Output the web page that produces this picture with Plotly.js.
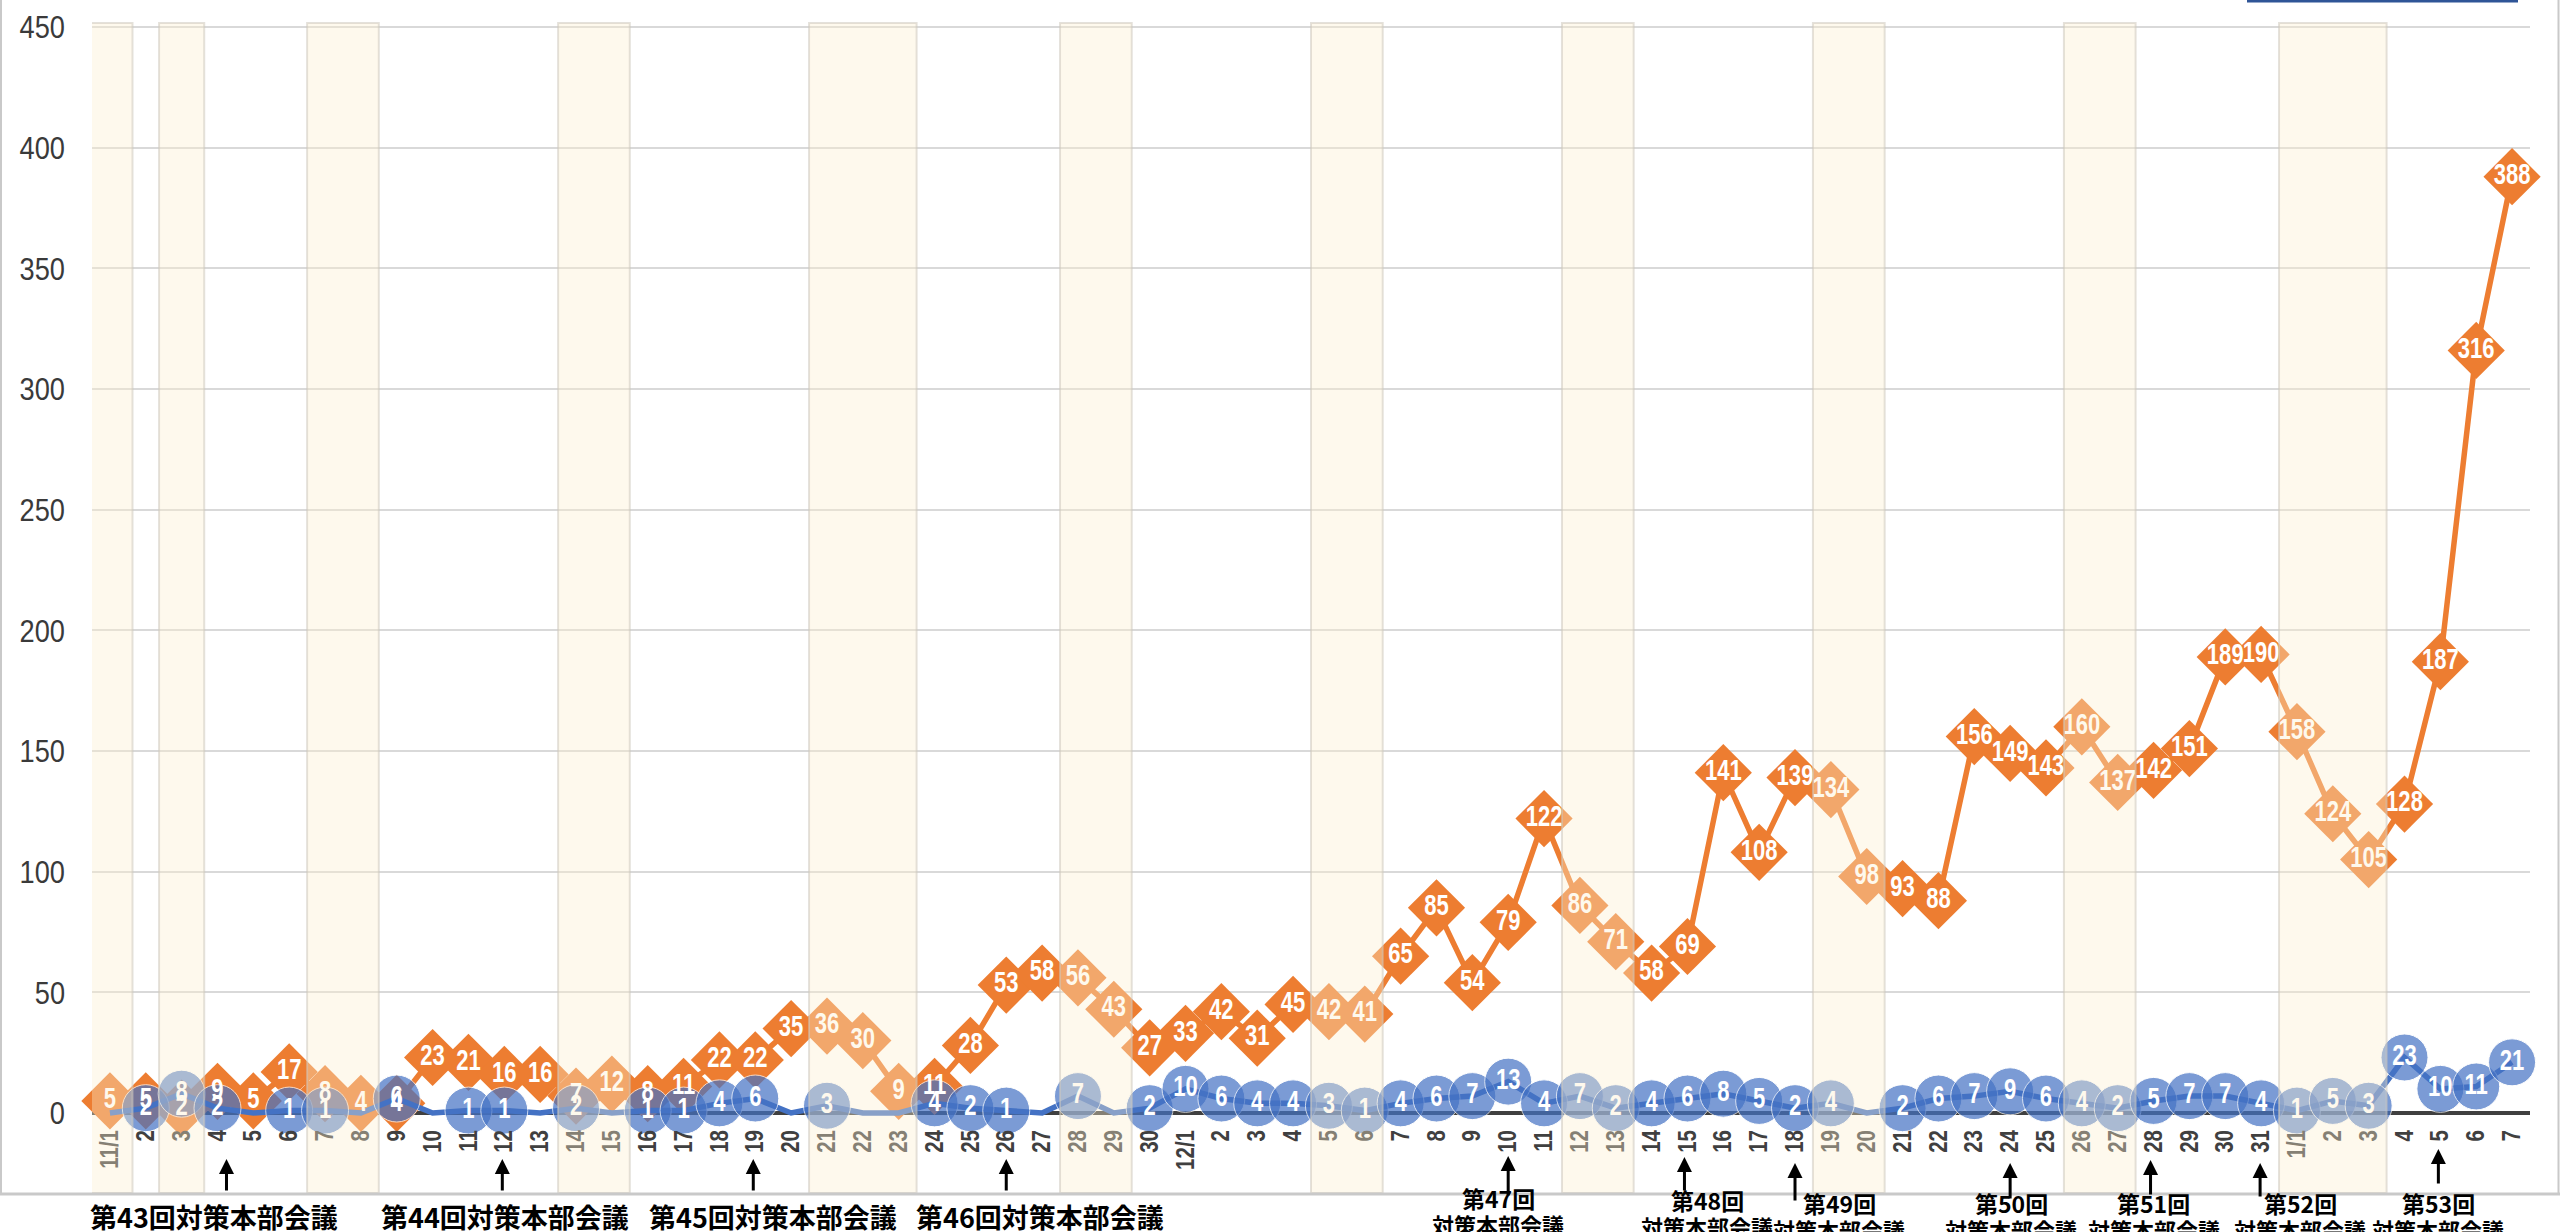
<!DOCTYPE html>
<html><head><meta charset="utf-8">
<script src="https://cdn.plot.ly/plotly-3.0.1.min.js"></script>
<style>html,body{margin:0;padding:0;background:#fff;overflow:hidden}#chart{width:2560px;height:1232px}</style>
</head><body><div id="chart"></div>
<script>
// ---- data ----
const dayLabels = ['11/1','2','3','4','5','6','7','8','9','10','11','12','13','14','15','16','17','18','19','20','21','22','23','24','25','26','27','28','29','30',
  '12/1','2','3','4','5','6','7','8','9','10','11','12','13','14','15','16','17','18','19','20','21','22','23','24','25','26','27','28','29','30','31',
  '1/1','2','3','4','5','6','7'];
const orangeValues = [5,5,2,9,5,17,8,4,4,23,21,16,16,7,12,8,11,22,22,35,36,30,9,11,28,53,58,56,43,27,
  33,42,31,45,42,41,65,85,54,79,122,86,71,58,69,141,108,139,134,98,93,88,156,149,143,160,137,142,151,189,190,
  158,124,105,128,187,316,388];
const blueValues = [0,2,8,2,0,1,1,0,6,0,1,1,0,2,0,1,1,4,6,0,3,0,0,4,2,1,0,7,0,2,
  10,6,4,4,3,1,4,6,7,13,4,7,2,4,6,8,5,2,4,0,2,6,7,9,6,4,2,5,7,7,4,
  1,5,3,23,10,11,21];
const holidayBlocks = [['11/1','11/1'],['11/3','11/3'],['11/7','11/8'],['11/14','11/15'],['11/21','11/23'],['11/28','11/29'],
  ['12/5','12/6'],['12/12','12/13'],['12/19','12/20'],['12/26','12/27'],['1/1','1/3']];
const meetingNames = ['第43回','第44回','第45回','第46回','第47回','第48回','第49回','第50回','第51回','第52回','第53回'];
const meetingDays = ['11/4','11/12','11/19','11/26','12/10','12/15','12/18','12/24','12/28','12/31','1/5'];
const yTicks = [0,50,100,150,200,250,300,350,400,450];

// ---- helpers ----
const idx = dayLabels.map((_, i) => i);
const fullKeys = [];
(function(){let m='11';dayLabels.forEach(l=>{if(l.includes('/')){m=l.split('/')[0];fullKeys.push(l);}else fullKeys.push(m+'/'+l);});})();
const di = k => fullKeys.indexOf(k);

const W=2560,H=1232,ML=92,MR=30,MT=20,MB=39;
const ZERO_PX=1113, PX_PER_UNIT=2.4133;
const yRange=[(ZERO_PX-(H-MB))/PX_PER_UNIT,(ZERO_PX-MT)/PX_PER_UNIT];
const paperY = py => (H-MB-py)/(H-MT-MB);
const paperX = px => (px-ML)/(W-ML-MR);
const NUM_FONT = '"Liberation Sans","Arial",sans-serif';
const JP_FONT = '"Noto Sans CJK JP","Noto Sans CJK SC",sans-serif';

const traces = [
  {x: idx, y: orangeValues, mode:'lines+markers', line:{color:'#ED7D31', width:5.5},
   marker:{symbol:'diamond', size:44, color:'#ED7D31'}, hoverinfo:'skip', cliponaxis:false},
  {x: idx, y: blueValues, mode:'lines+markers', line:{color:'#4472C4', width:5.5},
   marker:{symbol:'circle', size: blueValues.map(v=>v>0?47:0), color:'#4472C4'}, hoverinfo:'skip', cliponaxis:false},
  {x: idx, y: orangeValues, mode:'text', text: orangeValues.map(String), textposition:'middle center',
   textfont:{family:NUM_FONT, size:29, color:'#FFFFFF', weight:'bold'}, hoverinfo:'skip', cliponaxis:false},
  {x: idx, y: blueValues, mode:'text', text: blueValues.map(v=>v>0?String(v):''), textposition:'middle center',
   textfont:{family:NUM_FONT, size:29, color:'#FFFFFF', weight:'bold'}, hoverinfo:'skip', cliponaxis:false}
];

const shapes = [];
holidayBlocks.forEach(([a,b])=>{
  const i0=di(a), i1=di(b); const pad = (i0===i1)?0.63:0.5;
  shapes.push({type:'rect', layer:'above', xref:'x', yref:'y', x0:i0-pad, x1:i1+pad, y0:yRange[0], y1:451.7,
    fillcolor:'rgba(252,238,205,0.37)', line:{color:'rgba(205,200,190,0.55)', width:2}});
});
shapes.push({type:'line', xref:'paper', yref:'paper', x0:paperX(1), x1:paperX(1), y0:0, y1:paperY(-5), line:{color:'#C9C9C9', width:2}});
shapes.push({type:'line', xref:'paper', yref:'paper', x0:paperX(0), x1:paperX(2560), y0:paperY(1194), y1:paperY(1194), line:{color:'#C9C9C9', width:3}});
shapes.push({type:'line', xref:'paper', yref:'paper', x0:paperX(2558.5), x1:paperX(2558.5), y0:paperY(1194), y1:paperY(-5), line:{color:'#C9C9C9', width:2}});
shapes.push({type:'line', xref:'paper', yref:'paper', x0:paperX(2247), x1:paperX(2518), y0:paperY(1), y1:paperY(1), line:{color:'#2F5597', width:3}});

const arrowGeom = [[1159,1192,9],[1159,1192,-2],[1159,1192,-2],[1159,1192,0],[1156,1197,0],[1157,1192,-3],
  [1163,1202,0],[1163,1200,0],[1160,1196,-3],[1163,1198,-1],[1149,1185,-2]];
const textGeom = [[-3,1216,false],[1,1216,false],[18,1216,false],[34,1216,false],[-10,1198,true],[20,1200,true],
  [44,1203,true],[1,1203,true],[0,1203,true],[39,1203,true],[-2,1203,true]];
const annotations = [];
meetingDays.forEach((d,k)=>{
  const i=di(d); const [tip,tail,xs]=arrowGeom[k];
  annotations.push({x:i, y:paperY(tip), xref:'x', yref:'paper', text:'', showarrow:true, ax:0, ay:tail-tip,
    arrowhead:2, arrowsize:1, arrowwidth:3, arrowcolor:'#000', xshift:xs, standoff:0, startstandoff:0});
  const [ts, yc, two] = textGeom[k];
  if(!two){
    annotations.push({x:i, y:paperY(yc), xref:'x', yref:'paper', xshift:ts, text:'<b>'+meetingNames[k]+'対策本部会議</b>',
      showarrow:false, xanchor:'center', yanchor:'middle', font:{family:JP_FONT, size:27, color:'#000'}});
  } else {
    annotations.push({x:i, y:paperY(yc), xref:'x', yref:'paper', xshift:ts, text:'<b>'+meetingNames[k]+'</b>',
      showarrow:false, xanchor:'center', yanchor:'middle', font:{family:JP_FONT, size:23, color:'#000'}});
    annotations.push({x:i, y:paperY(yc+26), xref:'x', yref:'paper', xshift:ts, text:'<b>対策本部会議</b>',
      showarrow:false, xanchor:'center', yanchor:'middle', font:{family:JP_FONT, size:22, color:'#000'}});
  }
});

const layout = {
  width:W, height:H, margin:{l:ML, r:MR, t:MT, b:MB, pad:0},
  paper_bgcolor:'#fff', plot_bgcolor:'#fff', showlegend:false,
  xaxis:{type:'linear', range:[-0.5,67.5], tickmode:'array', tickvals:idx, ticktext:dayLabels, tickangle:-90,
    tickfont:{family:NUM_FONT, size:25, color:'#404040', weight:'bold'}, showgrid:false, zeroline:false, showline:false,
    anchor:'free', position:paperY(ZERO_PX), ticks:'', ticklabelstandoff:11, automargin:false, fixedrange:true},
  yaxis:{range:yRange, tickmode:'array', tickvals:yTicks, ticktext:yTicks.map(String), showgrid:true, gridcolor:'#D9D9D9', gridwidth:2,
    zeroline:true, zerolinecolor:'#404040', zerolinewidth:4, showline:false, ticks:'',
    tickfont:{family:NUM_FONT, size:32, color:'#3A3A3A'}, ticklabelstandoff:26, automargin:false, fixedrange:true},
  shapes, annotations
};
Plotly.newPlot('chart', traces, layout, {displayModeBar:false, staticPlot:true}).then(gd=>{
  // narrow the numeric glyphs to resemble the condensed face of the original
  const squeeze = (sel, f) => gd.querySelectorAll(sel).forEach(t=>{
    const L = t.getComputedTextLength();
    if (L > 0) { t.setAttribute('textLength', (L*f).toFixed(2)); t.setAttribute('lengthAdjust','spacingAndGlyphs'); }
  });
  squeeze('.textpoint text', 0.76);
  squeeze('.xtick text', 0.82);
  squeeze('.ytick text', 0.85);
});
</script></body></html>
